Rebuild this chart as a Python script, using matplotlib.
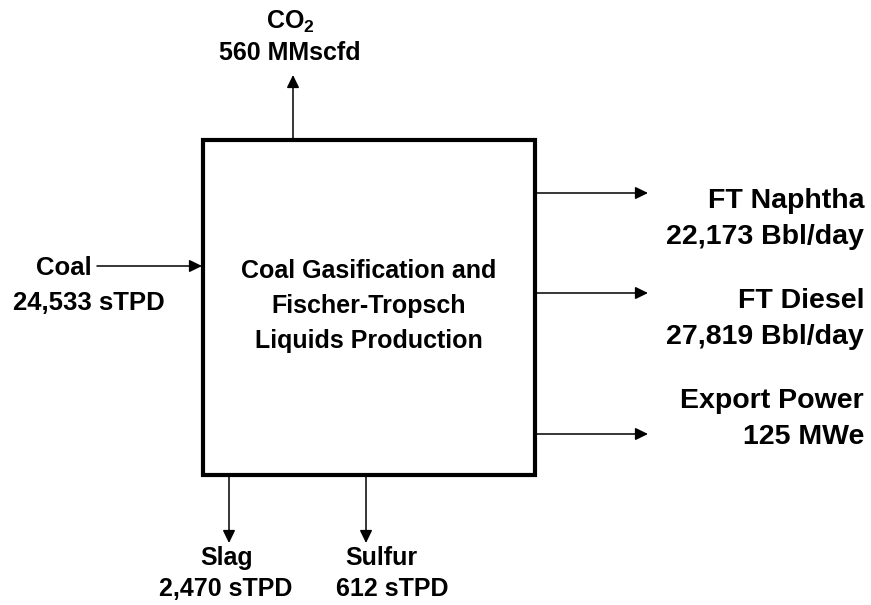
import matplotlib
matplotlib.use("Agg")
import matplotlib.pyplot as plt
from matplotlib.patches import Rectangle

plt.rcParams['font.family'] = ['Liberation Sans', 'DejaVu Sans']
plt.rcParams['font.weight'] = 'bold'
plt.rcParams['mathtext.fontset'] = 'custom'
plt.rcParams['mathtext.bf'] = 'Liberation Sans:bold'
plt.rcParams['mathtext.rm'] = 'Liberation Sans:bold'

# stream names and flow values
process_lines = ['Coal Gasification and', 'Fischer-Tropsch', 'Liquids Production']
feed_name, feed_value = 'Coal', '24,533 sTPD'
vent_name, vent_value = r'CO$_\mathbf{2}$', '560 MMscfd'
product_names = ['FT Naphtha', 'FT Diesel', 'Export Power']
product_values = ['22,173 Bbl/day', '27,819 Bbl/day', '125 MWe']
waste_names = ['Slag', 'Sulfur']
waste_values = ['2,470 sTPD', '612 sTPD']

# layout (pixels, y down)
W, H = 871, 605
box = (203, 140, 535, 475)          # left, top, right, bottom
product_y = [193, 293, 434]
product_label_y = [201, 301, 401]
waste_x = [229, 366]
waste_label_x = [[227, 226], [381, 392]]
vent_x = 293

fig = plt.figure(figsize=(W / 100, H / 100), dpi=100)
ax = fig.add_axes([0, 0, 1, 1])
ax.set_xlim(0, W)
ax.set_ylim(H, 0)
ax.axis('off')

left, top, right, bottom = box
ax.add_patch(Rectangle((left, top), right - left, bottom - top,
                       fill=False, lw=3, ec='black', joinstyle='miter'))

arrow = dict(arrowstyle='-|>,head_length=0.45,head_width=0.22', color='black', lw=1.1,
             mutation_scale=17, shrinkA=0, shrinkB=0)


def flow(x0, y0, x1, y1):
    ax.annotate('', xy=(x1, y1), xytext=(x0, y0), arrowprops=arrow)


# process block text
for i, line in enumerate(process_lines):
    ax.text(369, 271 + 35 * i, line, ha='center', va='center', fontsize=18)

# feed
flow(97, 266, left - 1, 266)
ax.text(92, 268, feed_name, ha='right', va='center', fontsize=18.5)
ax.text(89, 303, feed_value, ha='center', va='center', fontsize=18.5)

# vent
flow(vent_x, top - 1, vent_x, 75)
ax.text(290, 22, vent_name, ha='center', va='center', fontsize=18)
ax.text(290, 53, vent_value, ha='center', va='center', fontsize=18)

# products
for y, ly, name, val in zip(product_y, product_label_y, product_names, product_values):
    flow(right + 1, y, 648, y)
    ax.text(864, ly, name, ha='right', va='center', fontsize=20.5)
    ax.text(864, ly + 36, val, ha='right', va='center', fontsize=20.5)

# wastes
for x, (lx1, lx2), name, val in zip(waste_x, waste_label_x, waste_names, waste_values):
    flow(x, bottom + 1, x, 543)
    ax.text(lx1, 558, name, ha='center', va='center', fontsize=18)
    ax.text(lx2, 589, val, ha='center', va='center', fontsize=18)

fig.savefig('out.png', dpi=100, facecolor='white')
